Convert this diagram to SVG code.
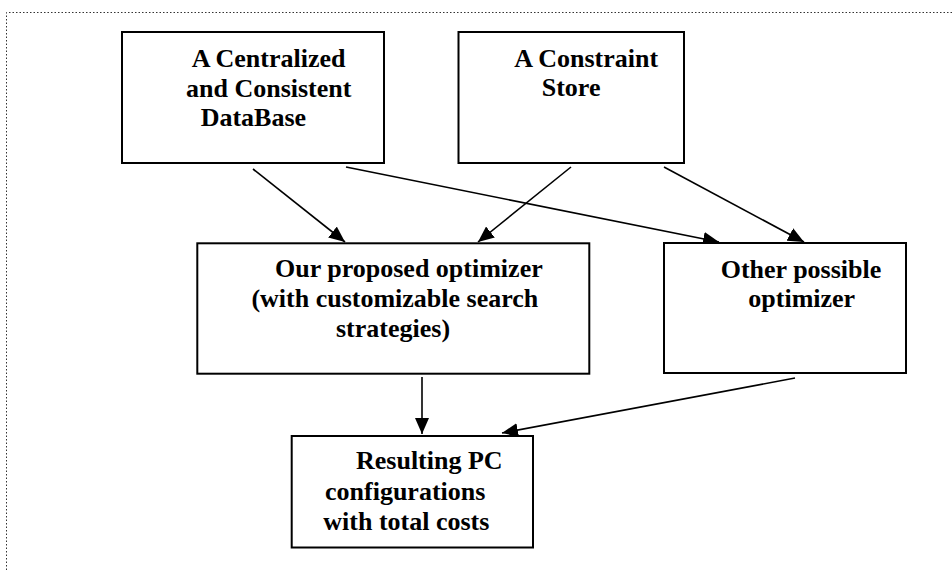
<svg xmlns="http://www.w3.org/2000/svg" width="952" height="570" viewBox="0 0 952 570">
<defs>
<style>
.box{fill:#ffffff;stroke:#000000;stroke-width:2}
.lbl{font-family:'Times New Roman','Liberation Serif',Times,serif;font-weight:700;font-size:26px;fill:#000000}
.con{stroke:#000000;stroke-width:1.6;fill:none;marker-end:url(#ah)}
.frame{stroke:#333333;stroke-width:1;stroke-dasharray:1.5 2;fill:none}
</style>
<marker id="ah" markerUnits="userSpaceOnUse" markerWidth="18" markerHeight="14" refX="16" refY="7" orient="auto">
<path d="M0,0 L16,7 L0,14 Z" fill="#000000"/>
</marker>
</defs>
<rect width="952" height="570" fill="#ffffff"/>
<g id="frame">
<path class="frame" d="M6.5,570 L6.5,12.5 L952,12.5"/>
</g>
<g id="connectors">
<line class="con" x1="253" y1="169" x2="345" y2="242"/>
<line class="con" x1="346" y1="167" x2="719" y2="242"/>
<line class="con" x1="571" y1="167" x2="478" y2="242"/>
<line class="con" x1="664" y1="167" x2="804" y2="242"/>
<line class="con" x1="422" y1="377" x2="422" y2="434"/>
<line class="con" x1="795" y1="378" x2="502" y2="433"/>
</g>
<g id="node-database">
<rect class="box" x="122" y="32" width="262" height="131"/>
<text class="lbl" x="191.7" y="66.7">A Centralized</text>
<text class="lbl" x="186" y="97.3">and Consistent</text>
<text class="lbl" x="200.7" y="126">DataBase</text>
</g>
<g id="node-constraint-store">
<rect class="box" x="458.5" y="32" width="225.5" height="131"/>
<text class="lbl" x="514.3" y="66.7">A Constraint</text>
<text class="lbl" x="541.7" y="96">Store</text>
</g>
<g id="node-proposed-optimizer">
<rect class="box" x="197.3" y="243.3" width="392" height="130.4"/>
<text class="lbl" x="275" y="277">Our proposed optimizer</text>
<text class="lbl" x="251.4" y="307">(with customizable search</text>
<text class="lbl" x="336" y="337">strategies)</text>
</g>
<g id="node-other-optimizer">
<rect class="box" x="664" y="243" width="242" height="130"/>
<text class="lbl" x="720.7" y="278.3">Other possible</text>
<text class="lbl" x="748.3" y="306.7">optimizer</text>
</g>
<g id="node-results">
<rect class="box" x="291.7" y="436" width="241.3" height="111.5"/>
<text class="lbl" x="356" y="469">Resulting PC</text>
<text class="lbl" x="325" y="500">configurations</text>
<text class="lbl" x="323.3" y="530">with total costs</text>
</g>
</svg>
